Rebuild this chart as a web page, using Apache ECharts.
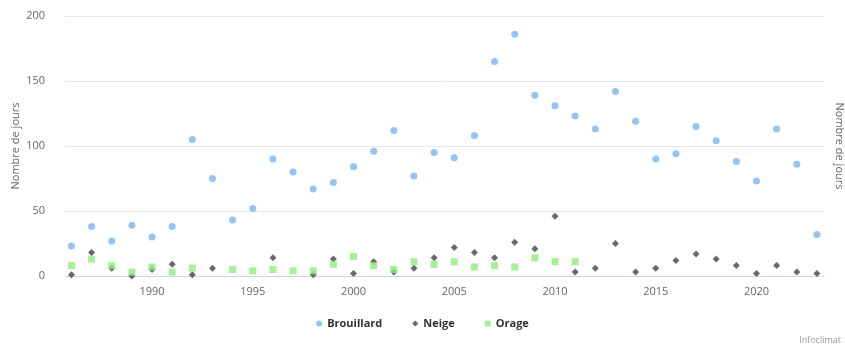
<!DOCTYPE html>
<html>
<head>
<meta charset="utf-8">
<script src="https://cdn.jsdelivr.net/npm/echarts@6/dist/echarts.min.js"></script>
<style>
  html, body { margin: 0; padding: 0; background: #fff; }
  #chart { width: 845px; height: 347px; }
</style>
</head>
<body>
<div id="chart"></div>
<script>
let years = [1986, 1987, 1988, 1989, 1990, 1991, 1992, 1993, 1994, 1995,
    1996, 1997, 1998, 1999, 2000, 2001, 2002, 2003, 2004, 2005,
    2006, 2007, 2008, 2009, 2010, 2011, 2012, 2013, 2014, 2015,
    2016, 2017, 2018, 2019, 2020, 2021, 2022, 2023];

let brouillard = [23, 38, 27, 39, 30, 38, 105, 75, 43, 52,
    90, 80, 67, 72, 84, 96, 112, 77, 95, 91,
    108, 165, 186, 139, 131, 123, 113, 142, 119, 90,
    94, 115, 104, 88, 73, 113, 86, 32];

let neige = [1, 18, 6, 0, 5, 9, 1, 6, null, null,
    14, null, 1, 13, 2, 11, 3, 6, 14, 22,
    18, 14, 26, 21, 46, 3, 6, 25, 3, 6,
    12, 17, 13, 8, 2, 8, 3, 2];

let orage = [8, 13, 8, 3, 7, 3, 6, null, 5, 4,
    5, 4, 4, 9, 15, 8, 5, 11, 9, 11,
    7, 8, 7, 14, 11, 11, null, null, null, null,
    null, null, null, null, null, null, null, null];

let yearTicks = [1990, 1995, 2000, 2005, 2010, 2015, 2020];

let pairs = vals => years.map((y, i) => [y, vals[i]]).filter(p => p[1] !== null);

let font = '"Open Sans", "DejaVu Sans", sans-serif';

let option = {
    animation: false,
    grid: { left: 65, right: 21, top: 16, bottom: 71, outerBoundsMode: 'none' },
    legend: {
        bottom: 13,
        left: 'center',
        itemGap: 30,
        itemWidth: 6,
        itemHeight: 6,
        textStyle: { color: '#333', fontWeight: 'bold', fontSize: 11, fontFamily: font },
        data: [
            { name: 'Brouillard', icon: 'circle' },
            { name: 'Neige', icon: 'diamond' },
            { name: 'Orage', icon: 'rect' }
        ]
    },
    xAxis: {
        type: 'value',
        min: 1985.68,
        max: 2023.35,
        axisLine: { lineStyle: { color: '#ccd6eb' } },
        axisTick: { show: false },
        splitLine: { show: false },
        axisLabel: {
            customValues: yearTicks,
            formatter: v => String(v),
            color: '#666',
            fontSize: 11,
            fontFamily: font,
            margin: 10
        }
    },
    yAxis: [
        {
            type: 'value',
            min: 0,
            max: 200,
            interval: 50,
            name: 'Nombre de jours',
            nameLocation: 'middle',
            nameGap: 44,
            nameMoveOverlap: false,
            nameTextStyle: { color: '#666', fontSize: 11, fontFamily: font },
            axisLine: { show: false },
            axisTick: { show: false },
            axisLabel: { color: '#666', fontSize: 11, fontFamily: font, margin: 20 },
            splitLine: { lineStyle: { color: '#e6e6e6' } }
        },
        {
            type: 'value',
            position: 'right',
            min: 0,
            max: 200,
            interval: 50,
            name: 'Nombre de jours',
            nameLocation: 'middle',
            nameRotate: -90,
            nameGap: 10,
            nameMoveOverlap: false,
            nameTextStyle: { color: '#666', fontSize: 11, fontFamily: font },
            axisLine: { show: false },
            axisTick: { show: false },
            axisLabel: { show: false },
            splitLine: { show: false }
        }
    ],
    series: [
        {
            name: 'Brouillard',
            type: 'scatter',
            symbol: 'circle',
            symbolSize: 7,
            itemStyle: { color: '#7cb5ec' },
            data: pairs(brouillard)
        },
        {
            name: 'Neige',
            type: 'scatter',
            symbol: 'diamond',
            symbolSize: 7,
            itemStyle: { color: '#434348' },
            data: pairs(neige)
        },
        {
            name: 'Orage',
            type: 'scatter',
            symbol: 'rect',
            symbolSize: 7,
            itemStyle: { color: '#90ed7d' },
            data: pairs(orage)
        }
    ],
    graphic: [
        {
            type: 'text',
            right: 4,
            bottom: 2,
            style: { text: 'Infoclimat', fill: '#999', fontSize: 9, fontFamily: font }
        }
    ]
};

let myChart = echarts.init(document.getElementById('chart'));
myChart.setOption(option);
</script>
</body>
</html>
